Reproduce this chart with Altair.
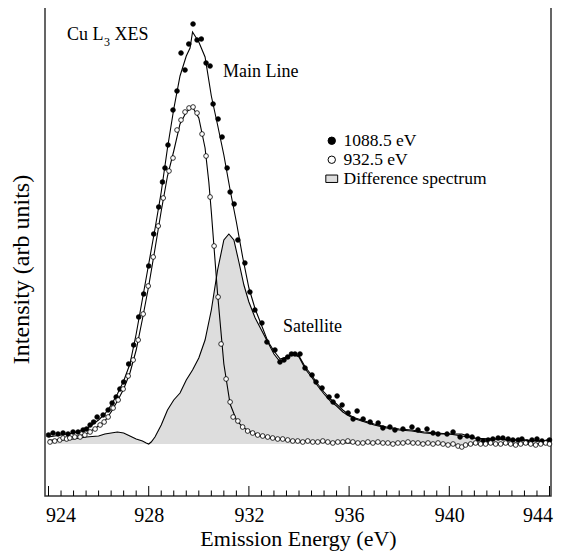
import altair as alt
import pandas as pd

# ---------------- data (intensity in arb. units) ----------------
FILLED_FIT_E = [924.0, 924.5, 925.0, 925.5, 926.0, 926.25, 926.5, 926.75, 927.0, 927.25, 927.5, 927.75,
                928.0, 928.25, 928.5, 928.75, 929.0, 929.25, 929.5, 929.65, 929.75, 929.85, 930.0, 930.25,
                930.5, 930.75, 931.0, 931.25, 931.5, 931.75, 932.0, 932.25, 932.5, 932.75, 933.0, 933.25,
                933.5, 933.75, 934.0, 934.25, 934.5, 934.75, 935.0, 935.25, 935.5, 935.75, 936.0, 936.25,
                936.5, 936.75, 937.0, 937.5, 938.0, 938.5, 939.0, 939.5, 940.0, 940.5, 941.0, 941.5,
                942.0, 942.5, 943.0, 943.5, 944.0]
FILLED_FIT_I = [7, 9, 11, 15, 24, 30, 39, 50, 63, 80, 110, 145,
                180, 215, 252, 296, 335, 368, 388, 396, 412, 408, 402, 387,
                348, 319, 289, 254, 222, 187, 156, 135, 119, 103, 93, 85,
                87, 91, 88, 77, 69, 60, 52, 45, 40, 34, 29, 26,
                24, 22, 20, 17, 15, 14, 12, 11, 10, 8, 6, 5,
                5, 4, 4, 3, 3]

OPEN_FIT_E = [924.0, 924.5, 925.0, 925.5, 926.0, 926.25, 926.5, 926.75, 927.0, 927.25, 927.5, 927.75,
              928.0, 928.25, 928.5, 928.75, 929.0, 929.25, 929.5, 929.75, 930.0, 930.25, 930.4, 930.5,
              930.75, 931.0, 931.25, 931.5, 931.75, 932.0, 932.5, 933.0, 933.5, 934.0, 935.0, 936.0,
              937.0, 938.0, 939.0, 939.5, 940.0, 940.5, 941.0, 942.0, 943.0, 944.0]
OPEN_FIT_I = [2, 5, 7, 10, 18, 23, 32, 43, 55, 71, 94, 125,
              158, 195, 233, 268, 293, 320, 332, 337, 326, 296, 262, 232,
              150, 80, 40, 24, 17, 13, 8, 6, 4, 3, 2, 1,
              1, 1, 1, 0, 0, -2, 0, 0, 0, 0]

DIFF_E = [924.0, 924.5, 925.0, 925.5, 926.0, 926.25, 926.5, 926.75, 927.0, 927.25, 927.5, 927.75,
          927.9, 928.0, 928.1, 928.25, 928.5, 928.75, 929.0, 929.25, 929.5, 929.75, 930.0, 930.25,
          930.5, 930.75, 931.0, 931.2, 931.4, 931.6, 931.8, 932.0, 932.25, 932.5, 932.75, 933.0,
          933.25, 933.5, 933.75, 934.0, 934.25, 934.5, 934.75, 935.0, 935.25, 935.5, 935.75, 936.0,
          936.25, 936.5, 936.75, 937.0, 937.5, 938.0, 938.5, 939.0, 939.5, 940.0, 940.5, 941.0,
          941.5, 942.0, 942.5, 943.0, 943.5, 944.0]
DIFF_I = [4, 4, 5, 7, 8, 10, 11, 12, 11, 8, 5, 3,
          1, 0, 2, 7, 19, 34, 44, 51, 64, 74, 86, 104,
          134, 174, 204, 210, 204, 182, 159, 142, 126, 114, 102, 90,
          82, 86, 90, 87, 75, 67, 58, 50, 43, 38, 32, 28,
          25, 23, 21, 19, 16, 14, 13, 11, 10, 10, 10, 6,
          5, 5, 4, 4, 3, 3]

FILLED_DOT_E = [924.0, 924.18, 924.38, 924.58, 924.78, 924.98, 925.18, 925.38, 925.52, 925.66, 925.8, 925.94,
                926.18, 926.38, 926.54, 926.7, 926.85, 927.0, 927.2, 927.4, 927.6, 927.8, 928.0, 928.2,
                928.4, 928.55, 928.65, 928.77, 928.97, 929.13, 929.29, 929.45, 929.6, 929.77, 929.93, 930.1,
                930.29, 930.45, 930.57, 930.77, 930.93, 931.13, 931.25, 931.41, 931.56, 931.84, 932.04, 932.24,
                932.52, 932.72, 933.04, 933.24, 933.4, 933.55, 933.7, 933.84, 934.04, 934.24, 934.52, 934.68,
                934.92, 935.2, 935.36, 935.52, 935.72, 935.96, 936.16, 936.32, 936.56, 936.84, 937.16, 937.35,
                937.63, 937.83, 938.15, 938.51, 938.75, 939.11, 939.35, 939.55, 939.91, 940.15, 940.43, 940.71,
                940.91, 941.15, 941.35, 941.55, 941.74, 941.95, 942.14, 942.35, 942.54, 942.75, 942.9, 943.1,
                943.3, 943.5, 943.7, 943.9, 944.0]
FILLED_DOT_I = [9, 11, 10, 11, 10, 12, 12, 14, 15, 19, 22, 27,
                29, 34, 41, 47, 55, 62, 80, 99, 127, 150, 178, 210,
                237, 262, 276, 299, 334, 353, 391, 374, 400, 420, 404, 405,
                381, 378, 340, 325, 307, 276, 252, 240, 204, 181, 152, 134,
                121, 102, 94, 82, 84, 87, 90, 90, 90, 76, 69, 62,
                56, 47, 42, 48, 39, 31, 25, 33, 25, 22, 21, 16,
                17, 14, 15, 17, 14, 15, 11, 10, 10, 12, 7, 8,
                7, 5, 3, 4, 5, 6, 6, 5, 4, 4, 5, 2,
                4, 5, 3, 2, 4]

OPEN_DOT_E = [924.06, 924.25, 924.45, 924.58, 924.72, 924.85, 925.05, 925.26, 925.45, 925.66, 925.86, 926.06,
              926.22, 926.38, 926.58, 926.78, 926.98, 927.18, 927.38, 927.58, 927.78, 927.98, 928.18, 928.38,
              928.58, 928.81, 928.97, 929.13, 929.29, 929.45, 929.61, 929.77, 929.93, 930.13, 930.29, 930.45,
              930.61, 930.77, 930.89, 931.09, 931.25, 931.37, 931.56, 931.75, 931.95, 932.15, 932.35, 932.55,
              932.75, 932.95, 933.15, 933.35, 933.55, 933.75, 933.95, 934.15, 934.35, 934.55, 934.75, 934.95,
              935.15, 935.35, 935.55, 935.75, 935.95, 936.15, 936.35, 936.55, 936.75, 936.95, 937.15, 937.35,
              937.55, 937.75, 937.95, 938.15, 938.35, 938.55, 938.75, 938.95, 939.15, 939.35, 939.55, 939.75,
              939.95, 940.15, 940.35, 940.5, 940.65, 940.85, 941.05, 941.25, 941.45, 941.65, 941.85, 942.05,
              942.25, 942.45, 942.65, 942.85, 943.05, 943.25, 943.45, 943.65, 943.85, 944.0]
OPEN_DOT_I = [2, 3, 4, 6, 5, 6, 7, 7, 9, 12, 15, 19,
              22, 27, 36, 44, 55, 68, 84, 104, 130, 158, 187, 218,
              246, 273, 286, 314, 324, 332, 336, 337, 331, 310, 288, 247,
              198, 147, 100, 65, 42, 27, 23, 17, 13, 11, 9, 8,
              7, 6, 5, 5, 4, 3, 3, 2, 3, 2, 2, 3,
              2, 1, 2, 2, 3, 2, 1, 1, 2, 1, 2, 1,
              1, 0, 1, 1, 2, 1, 1, 0, 1, 0, 1, 0,
              -1, 0, -2, -3, -1, 0, 1, 0, 0, 1, 0, 0,
              1, 0, -1, 0, 1, 0, -1, 0, 1, 0]

SERIES = ["1088.5 eV", "932.5 eV", "Difference spectrum"]
MAJOR_TICKS = [924, 928, 932, 936, 940, 944]
MINOR_TICKS = [924.5, 925, 925.5, 926, 926.5, 927, 927.5, 928.5, 929, 929.5, 930, 930.5, 931, 931.5,
               932.5, 933, 933.5, 934, 934.5, 935, 935.5, 936.5, 937, 937.5, 938, 938.5, 939, 939.5,
               940.5, 941, 941.5, 942, 942.5, 943, 943.5]

# ---------------- tables ----------------
fits = pd.concat([
    pd.DataFrame({"E": FILLED_FIT_E, "I": FILLED_FIT_I, "curve": "fit1088"}),
    pd.DataFrame({"E": OPEN_FIT_E, "I": OPEN_FIT_I, "curve": "fit932"}),
    pd.DataFrame({"E": DIFF_E, "I": DIFF_I, "curve": "diff"}),
])
diff = pd.DataFrame({"E": DIFF_E, "I": DIFF_I, "series": SERIES[2]})
dots = pd.concat([
    pd.DataFrame({"E": FILLED_DOT_E, "I": FILLED_DOT_I, "series": SERIES[0]}),
    pd.DataFrame({"E": OPEN_DOT_E, "I": OPEN_DOT_I, "series": SERIES[1]}),
])
ticks_major = pd.DataFrame({"E": MAJOR_TICKS})
ticks_minor = pd.DataFrame({"E": MINOR_TICKS})

FONT = "Liberation Serif"
XDOM = [923.86, 944.06]
YDOM = [-52, 441]

xenc = alt.X("E:Q", scale=alt.Scale(domain=XDOM, nice=False, zero=False),
             axis=alt.Axis(values=MAJOR_TICKS, format="d", ticks=False, domain=False, grid=False,
                           labelFont=FONT, labelFontSize=20, labelColor="black", labelPadding=9,
                           labelFlush=6, labelFlushOffset=3,
                           title="Emission Energy (eV)", titleFont=FONT, titleFontSize=22,
                           titleFontWeight="normal", titleColor="black",
                           titleBaseline="middle", titleY=42))
yenc = alt.Y("I:Q", scale=alt.Scale(domain=YDOM, nice=False, zero=False),
             axis=alt.Axis(labels=False, ticks=False, domain=False, grid=False,
                           title="Intensity (arb units)", titleFont=FONT, titleFontSize=24,
                           titleFontWeight="normal", titleColor="black",
                           titleAngle=270, titleBaseline="middle", titleX=-24, titleY=266))

legend = alt.Legend(title=None, orient="none", legendX=278, legendY=129,
                    labelFont=FONT, labelFontSize=17.5, labelColor="black",
                    symbolSize=55, symbolStrokeColor="black", symbolStrokeWidth=1,
                    rowPadding=0, labelOffset=3, padding=0)
fill_scale = alt.Scale(domain=SERIES, range=["black", "white", "#dddddd"])
shape_scale = alt.Scale(domain=SERIES, range=["circle", "circle", "M-1.6,-1H1.6V1H-1.6Z"])

area = alt.Chart(diff).mark_area(opacity=1).encode(
    x=xenc, y=yenc,
    fill=alt.Fill("series:N", scale=fill_scale, legend=legend))

lines = alt.Chart(fits).mark_line(color="black", strokeWidth=1.1).encode(
    x=xenc, y=yenc, detail="curve:N")

points = alt.Chart(dots).mark_point(filled=True, opacity=1, stroke="black", strokeWidth=0.8, size=22).encode(
    x=xenc, y=yenc,
    fill=alt.Fill("series:N", scale=fill_scale, legend=legend),
    shape=alt.Shape("series:N", scale=shape_scale, legend=legend))

minor = alt.Chart(ticks_minor).mark_rule(color="black", strokeWidth=1).encode(
    x=xenc, y=alt.value(493), y2=alt.value(487.5))
major = alt.Chart(ticks_major).mark_rule(color="black", strokeWidth=1).encode(
    x=xenc, y=alt.value(493), y2=alt.value(483))

ann_big = pd.DataFrame({"E": [924.74, 926.63, 930.97, 933.36],
                        "I": [404, 404, 367, 112],
                        "t": ["Cu L", "XES", "Main Line", "Satellite"]})
ann_sub = pd.DataFrame({"E": [926.22], "I": [398], "t": ["3"]})
txt_big = alt.Chart(ann_big).mark_text(font=FONT, fontSize=18, align="left", baseline="alphabetic",
                                       color="black").encode(x=xenc, y=yenc, text="t:N")
txt_sub = alt.Chart(ann_sub).mark_text(font=FONT, fontSize=12, align="left", baseline="alphabetic",
                                       color="black").encode(x=xenc, y=yenc, text="t:N")

chart = alt.layer(area, lines, points, minor, major, txt_big, txt_sub).properties(
    width=506, height=493,
    autosize=alt.AutoSizeParams(type="none"),
    padding={"left": 37, "top": -5, "right": 5, "bottom": 55},
    background="white",
).configure_view(
    stroke="#333333", strokeWidth=1.5
).configure_axis(
    labelFont=FONT, titleFont=FONT, labelColor="black", titleColor="black"
).configure_legend(
    labelFont=FONT
).configure_text(font=FONT)

chart.save("out.html", embed_options={"renderer": "svg", "actions": False})
